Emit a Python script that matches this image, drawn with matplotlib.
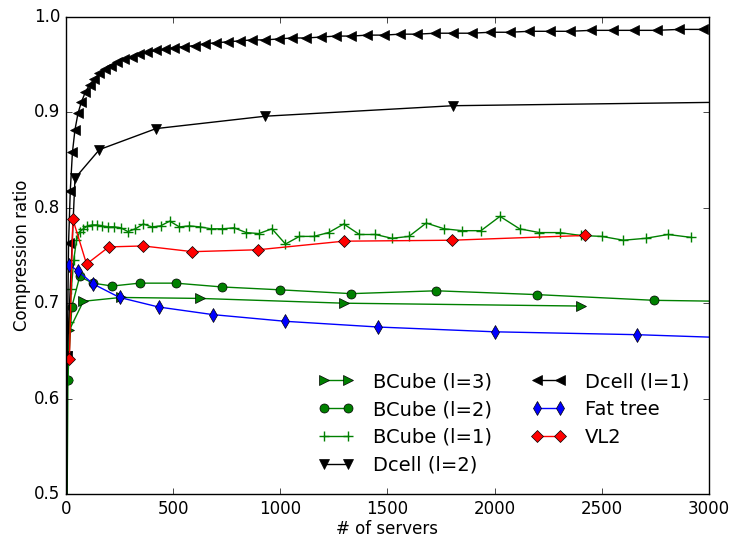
import numpy as np
import matplotlib
matplotlib.use("Agg")
from matplotlib import pyplot as plt

# BCube, l=3 (n^4 servers)
bcube3_x = [16, 81, 256, 625, 1296, 2401]
bcube3_y = [0.672, 0.702, 0.706, 0.705, 0.700, 0.697]

# BCube, l=2 (n^3 servers)
bcube2_x = [8, 27, 64, 125, 216, 343, 512, 729, 1000, 1331, 1728, 2197, 2744, 3375]
bcube2_y = [0.619, 0.696, 0.728, 0.721, 0.718, 0.721, 0.721, 0.717, 0.714, 0.710,
            0.713, 0.709, 0.703, 0.701]

# BCube, l=1 (n^2 servers)
bcube1_x = [4, 9, 16, 25, 36, 49, 64, 81, 100, 121, 144, 169, 196, 225, 256, 289,
            324, 361, 400, 441, 484, 529, 576, 625, 676, 729, 784, 841, 900, 961,
            1024, 1089, 1156, 1225, 1296, 1369, 1444, 1521, 1600, 1681, 1764, 1849,
            1936, 2025, 2116, 2209, 2304, 2401, 2500, 2601, 2704, 2809, 2916]
bcube1_y = [0.45, 0.62, 0.68, 0.715, 0.745, 0.766, 0.775, 0.778, 0.781, 0.782,
            0.782, 0.781, 0.780, 0.780, 0.779, 0.775, 0.778, 0.783, 0.780, 0.781,
            0.786, 0.780, 0.781, 0.780, 0.778, 0.778, 0.779, 0.774, 0.773, 0.778,
            0.762, 0.770, 0.770, 0.774, 0.783, 0.772, 0.772, 0.768, 0.770, 0.784,
            0.778, 0.776, 0.776, 0.791, 0.778, 0.774, 0.774, 0.771, 0.770, 0.766,
            0.768, 0.772, 0.769]

# Dcell, l=2
dcell2_x = [6, 42, 156, 420, 930, 1806, 3192]
dcell2_y = [0.645, 0.831, 0.861, 0.883, 0.896, 0.907, 0.911]

# Dcell, l=1 (n(n+1) servers)
dcell1_x = [2, 6, 12, 20, 30, 42, 56, 72, 90, 110, 132, 156, 182, 210, 240, 272,
            306, 342, 380, 420, 462, 506, 552, 600, 650, 702, 756, 812, 870, 930,
            992, 1056, 1122, 1190, 1260, 1332, 1406, 1482, 1560, 1640, 1722, 1806,
            1892, 1980, 2070, 2162, 2256, 2352, 2450, 2550, 2652, 2756, 2862, 2970]
dcell1_y = [0.29, 0.645, 0.763, 0.818, 0.858, 0.882, 0.899, 0.911, 0.921, 0.929,
            0.935, 0.941, 0.945, 0.949, 0.953, 0.956, 0.958, 0.961, 0.963, 0.965,
            0.966, 0.968, 0.969, 0.970, 0.972, 0.973, 0.974, 0.975, 0.976, 0.976,
            0.977, 0.978, 0.978, 0.979, 0.980, 0.980, 0.981, 0.981, 0.982, 0.982,
            0.983, 0.983, 0.983, 0.984, 0.984, 0.985, 0.985, 0.985, 0.986, 0.986,
            0.986, 0.986, 0.987, 0.987]

# Fat tree (k^3/4 servers)
fattree_x = [16, 54, 128, 250, 432, 686, 1024, 1458, 2000, 2662, 3456]
fattree_y = [0.740, 0.734, 0.720, 0.706, 0.696, 0.688, 0.681, 0.675, 0.670, 0.667, 0.661]

# VL2
vl2_x = [16, 32, 96, 200, 360, 590, 896, 1296, 1800, 2420]
vl2_y = [0.642, 0.788, 0.741, 0.759, 0.760, 0.754, 0.756, 0.765, 0.766, 0.771]

plt.style.use("classic")
plt.rcParams["font.family"] = ["DejaVu Sans"]

fig = plt.figure(figsize=(7.3, 5.41), dpi=100, facecolor="white")
ax = fig.add_axes([0.0904, 0.0869, 0.8808, 0.8817])

ms = 6.5
ax.plot(bcube3_x, bcube3_y, "g>-", ms=ms, mec="k", label="BCube (l=3)")
ax.plot(bcube2_x, bcube2_y, "go-", ms=ms, mec="k", label="BCube (l=2)")
ax.plot(bcube1_x, bcube1_y, "g+-", ms=ms + 1, mew=1, label="BCube (l=1)")
ax.plot(dcell2_x, dcell2_y, "kv-", ms=ms, label="Dcell (l=2)")
ax.plot(dcell1_x, dcell1_y, "k<-", ms=ms, label="Dcell (l=1)")
ax.plot(fattree_x, fattree_y, "bd-", ms=ms + 1, mec="k", label="Fat tree")
ax.plot(vl2_x, vl2_y, "rD-", ms=ms, mec="k", label="VL2")

ax.set_xlim(0, 3000)
ax.set_ylim(0.5, 1.0)
ax.set_xticks(np.arange(0, 3001, 500))
ax.set_yticks(np.arange(0.5, 1.01, 0.1))
ax.set_xlabel("# of servers", labelpad=2)
ax.set_ylabel("Compression ratio", labelpad=2)

ax.legend(loc="lower right", ncol=2, frameon=False, numpoints=2, fontsize=14,
          handlelength=1.8, handletextpad=1.0, columnspacing=2.0,
          labelspacing=0.45, borderaxespad=0.6)

fig.savefig("out.png", dpi=100, facecolor="white")
